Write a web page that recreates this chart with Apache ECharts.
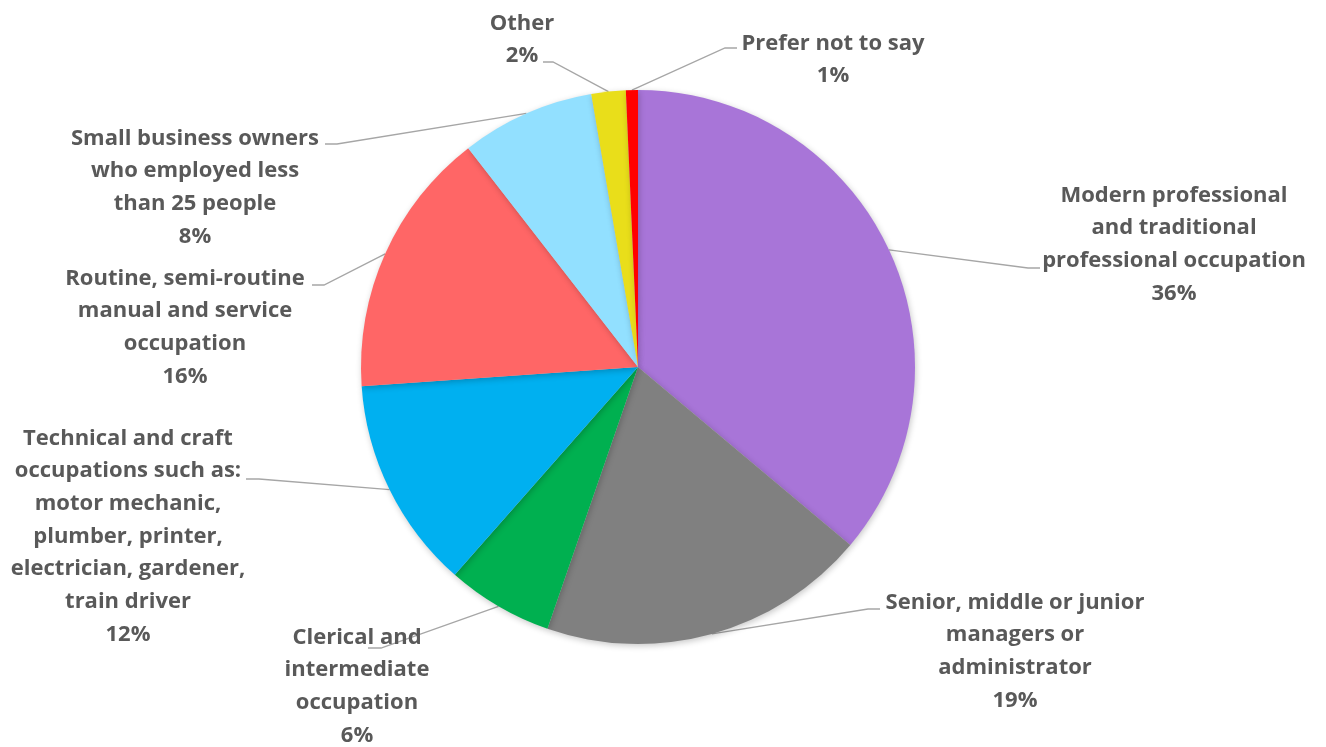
<!DOCTYPE html>
<html>
<head>
<meta charset="utf-8">
<script src="https://cdn.jsdelivr.net/npm/echarts@6/dist/echarts.min.js"></script>
<style>
html,body{margin:0;padding:0;background:#fff;}
#chart{width:1326px;height:747px;}
</style>
</head>
<body>
<div id="chart"></div>
<script>
// ---- data ----
const categories = [
  "Modern professional\nand traditional\nprofessional occupation",
  "Senior, middle or junior\nmanagers or\nadministrator",
  "Clerical and\nintermediate\noccupation",
  "Technical and craft\noccupations such as:\nmotor mechanic,\nplumber, printer,\nelectrician, gardener,\ntrain driver",
  "Routine, semi-routine\nmanual and service\noccupation",
  "Small business owners\nwho employed less\nthan 25 people",
  "Other",
  "Prefer not to say"
];
const values = [36.1, 19.2, 6.2, 12.4, 15.6, 7.8, 2.0, 0.7];
const colors = ["#A875D8", "#808080", "#00B050", "#00B0F0", "#FF6666", "#92E0FF", "#E9DE1A", "#FF0000"];

// ---- label layout (text center x, text top y, elbow point, stub end) ----
const labelPos = [
  {x: 1174, y: 179, elbow: [1028, 268], end: [1040, 268]},
  {x: 1015, y: 586, elbow: [868, 609], end: [880, 609]},
  {x: 357,  y: 621, elbow: [381, 648], end: [368, 648]},
  {x: 128,  y: 422, elbow: [259, 479], end: [246, 479]},
  {x: 185,  y: 262, elbow: [324, 285], end: [312, 285]},
  {x: 195,  y: 122, elbow: [337, 144], end: [325, 144]},
  {x: 522,  y: 7,   elbow: [553, 62],  end: [543, 62]},
  {x: 833,  y: 27,  elbow: [725, 48],  end: [737, 48]}
];

const chart = echarts.init(document.getElementById('chart'), null, {renderer: 'canvas'});
const option = {
  backgroundColor: '#ffffff',
  animation: false,
  series: [{
    type: 'pie',
    center: [638, 367],
    radius: 277,
    startAngle: 90,
    clockwise: true,
    avoidLabelOverlap: false,
    percentPrecision: 0,
    data: categories.map((c, i) => ({
      name: c,
      value: values[i],
      itemStyle: {color: colors[i]}
    })),
    itemStyle: {
      borderWidth: 0,
      shadowBlur: 6,
      shadowColor: 'rgba(0,0,0,0.22)',
      shadowOffsetX: 1,
      shadowOffsetY: 2
    },
    label: {
      show: true,
      position: 'outer',
      formatter: '{b}\n{d}%',
      fontFamily: 'Open Sans',
      fontWeight: 'bold',
      fontSize: 22,
      lineHeight: 32.7,
      color: '#595959',
      align: 'center'
    },
    labelLine: {
      show: true,
      length: 10,
      length2: 10,
      lineStyle: {color: '#A6A6A6', width: 1.3}
    },
    labelLayout: function (params) {
      const p = labelPos[params.dataIndex];
      const start = params.labelLinePoints ? params.labelLinePoints[0] : p.elbow;
      return {
        x: p.x,
        y: p.y,
        align: 'center',
        verticalAlign: 'top',
        labelLinePoints: [start, p.elbow, p.end]
      };
    }
  }]
};
chart.setOption(option);
</script>
</body>
</html>
